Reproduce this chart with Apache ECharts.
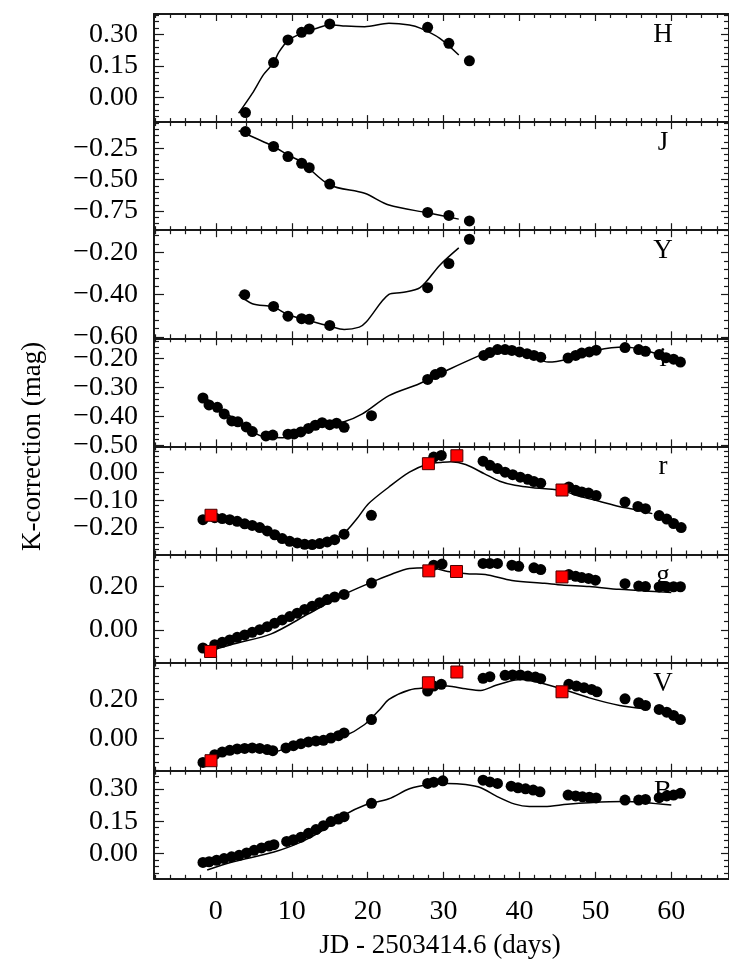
<!DOCTYPE html>
<html lang="en">
<head>
<meta charset="UTF-8" />
<title>K-correction</title>
<script src="https://cdn.jsdelivr.net/npm/echarts@6/dist/echarts.min.js"></script>
<style>
  html, body { margin: 0; padding: 0; background: #fff; }
  #chart { width: 729px; height: 969px; }
</style>
</head>
<body>
<div id="chart"></div>
<script>
// ---- data: [day, K-correction] ----
const H_DOTS = [[3.9,-0.071],[7.6,0.166],[9.5,0.273],[11.3,0.309],[12.3,0.325],[15.0,0.349],[27.9,0.333],[30.7,0.257],[33.4,0.174]];
const H_LINE = [[3.0,-0.074],[4.8,0.02],[6.3,0.11],[7.6,0.165],[8.3,0.215],[9.5,0.27],[11.2,0.303],[13.2,0.327],[15.0,0.345],[17.1,0.339],[19.6,0.336],[22.8,0.352],[25.5,0.344],[27.0,0.328],[29.5,0.281],[32.0,0.202]];

const J_DOTS = [[3.9,-0.118],[7.6,-0.237],[9.5,-0.317],[11.3,-0.370],[12.3,-0.405],[15.0,-0.535],[27.9,-0.761],[30.7,-0.785],[33.4,-0.828]];
const J_LINE = [[3.0,-0.112],[7.6,-0.237],[9.5,-0.305],[11.2,-0.357],[15.0,-0.543],[19.6,-0.609],[22.8,-0.702],[27.9,-0.764],[32.0,-0.814]];

const Y_DOTS = [[3.8,-0.40],[7.6,-0.456],[9.5,-0.502],[11.3,-0.514],[12.3,-0.517],[15.0,-0.546],[27.9,-0.367],[30.7,-0.252],[33.4,-0.137]];
const Y_LINE = [[3.0,-0.40],[4.8,-0.443],[7.6,-0.459],[9.5,-0.495],[12.2,-0.522],[15.0,-0.549],[16.9,-0.565],[18.9,-0.554],[19.8,-0.530],[22.8,-0.399],[24.5,-0.39],[26.9,-0.367],[29.5,-0.26],[32.0,-0.178]];

const I_DOTS = [[-1.7,-0.336],[-0.9,-0.36],[0.2,-0.368],[1.1,-0.391],[2.1,-0.415],[2.9,-0.418],[4.0,-0.436],[4.8,-0.452],[6.6,-0.467],[7.5,-0.464],[9.5,-0.461],[10.3,-0.46],[11.2,-0.453],[12.2,-0.441],[13.1,-0.43],[14.0,-0.421],[15.0,-0.428],[15.9,-0.423],[16.9,-0.437],[20.5,-0.397],[27.9,-0.272],[28.9,-0.255],[29.7,-0.247],[35.3,-0.189],[36.1,-0.179],[37.1,-0.169],[38.1,-0.169],[39.0,-0.172],[40.0,-0.177],[41.0,-0.183],[41.9,-0.189],[42.8,-0.195],[46.4,-0.198],[47.4,-0.189],[48.2,-0.181],[49.2,-0.177],[50.1,-0.171],[53.9,-0.162],[55.7,-0.169],[56.6,-0.175],[58.4,-0.186],[59.3,-0.197],[60.3,-0.202],[61.2,-0.212]];
const I_LINE = [[-1.5,-0.335],[0.5,-0.37],[3.0,-0.42],[6.2,-0.469],[8.8,-0.473],[12.7,-0.444],[15.6,-0.421],[16.9,-0.418],[19.3,-0.391],[22.8,-0.328],[26.8,-0.287],[30.9,-0.235],[35.3,-0.183],[37.4,-0.16],[39.4,-0.165],[41.8,-0.194],[43.8,-0.212],[46.3,-0.202],[50.2,-0.171],[53.9,-0.16],[56.6,-0.172],[60.0,-0.2]];

const R_DOTS = [[-1.7,-0.171],[-0.15,-0.164],[0.84,-0.167],[1.83,-0.171],[2.81,-0.177],[3.80,-0.186],[4.79,-0.192],[5.78,-0.200],[6.77,-0.212],[7.75,-0.226],[8.74,-0.240],[9.73,-0.250],[10.72,-0.256],[11.70,-0.261],[12.69,-0.262],[13.68,-0.258],[14.67,-0.252],[15.65,-0.244],[16.89,-0.224],[20.49,-0.155],[28.7,0.057],[29.7,0.063],[35.2,0.042],[36.1,0.027],[37.1,0.015],[38.1,0.002],[39.1,-0.007],[40.1,-0.016],[41.1,-0.024],[41.9,-0.032],[42.8,-0.038],[46.5,-0.052],[47.4,-0.064],[48.2,-0.070],[49.1,-0.074],[50.1,-0.083],[53.9,-0.107],[55.6,-0.123],[56.6,-0.131],[58.4,-0.156],[59.4,-0.169],[60.3,-0.185],[61.3,-0.200]];
const R_SQUARES = [[-0.64,-0.155],[28.0,0.033],[31.75,0.062],[45.6,-0.063]];
const R_LINE = [[-1.5,-0.168],[2.0,-0.174],[5.0,-0.192],[8.0,-0.232],[10.5,-0.256],[12.7,-0.263],[15.0,-0.249],[16.9,-0.220],[18.6,-0.167],[20.1,-0.113],[22.8,-0.052],[25.5,0.002],[28.0,0.033],[29.5,0.037],[31.0,0.040],[32.9,0.030],[35.4,-0.004],[37.4,-0.031],[39.4,-0.046],[41.8,-0.055],[44.3,-0.060],[45.8,-0.067],[48.2,-0.088],[50.4,-0.103],[53.1,-0.123],[55.0,-0.133],[57.5,-0.149]];

const G_DOTS = [[-1.7,-0.083],[-0.15,-0.068],[0.84,-0.057],[1.83,-0.046],[2.81,-0.034],[3.80,-0.023],[4.79,-0.011],[5.78,0.001],[6.77,0.015],[7.75,0.031],[8.74,0.046],[9.73,0.061],[10.72,0.077],[11.70,0.094],[12.69,0.109],[13.68,0.125],[14.67,0.139],[15.65,0.151],[16.89,0.163],[20.5,0.215],[28.7,0.297],[29.8,0.302],[35.2,0.305],[36.1,0.305],[37.1,0.305],[39.0,0.297],[39.9,0.292],[41.9,0.285],[42.8,0.277],[46.5,0.254],[47.4,0.246],[48.2,0.240],[49.1,0.236],[50.0,0.228],[53.9,0.212],[55.7,0.201],[56.6,0.199],[58.4,0.197],[59.4,0.197],[60.3,0.198],[61.2,0.198]];
const G_SQUARES = [[-0.7,-0.099],[28.05,0.271],[31.7,0.268],[45.6,0.243]];
const G_LINE = [[-1.4,-0.103],[2.3,-0.065],[7.3,-0.018],[12.2,0.074],[16.9,0.163],[20.6,0.220],[22.8,0.251],[25.5,0.282],[28.0,0.285],[31.0,0.266],[33.4,0.257],[35.5,0.254],[39.0,0.227],[43.3,0.214],[45.6,0.206],[49.2,0.199],[53.1,0.186],[58.3,0.175],[60.0,0.172]];

const V_DOTS = [[-1.7,-0.122],[-0.15,-0.082],[0.84,-0.069],[1.83,-0.060],[2.81,-0.053],[3.80,-0.050],[4.79,-0.048],[5.78,-0.050],[6.77,-0.056],[7.5,-0.062],[9.23,-0.048],[10.22,-0.036],[11.21,-0.026],[12.2,-0.017],[13.19,-0.012],[14.17,-0.009],[15.16,0.003],[16.15,0.015],[16.89,0.029],[20.5,0.097],[27.9,0.243],[28.7,0.268],[29.7,0.277],[35.2,0.308],[36.1,0.316],[38.1,0.323],[39.1,0.325],[40.1,0.325],[41.1,0.319],[42.1,0.314],[42.8,0.306],[46.5,0.277],[47.5,0.268],[48.5,0.26],[49.5,0.251],[50.2,0.239],[53.9,0.203],[55.7,0.183],[56.6,0.169],[58.4,0.149],[59.4,0.135],[60.3,0.118],[61.2,0.097]];
const V_SQUARES = [[-0.64,-0.113],[28.0,0.285],[31.75,0.340],[45.6,0.239]];
const V_LINE = [[-1.14,-0.111],[-0.15,-0.091],[2.81,-0.060],[7.5,-0.069],[9.73,-0.043],[13.68,-0.022],[16.89,0.012],[19.6,0.072],[21.6,0.149],[22.8,0.2],[25.5,0.248],[28.0,0.26],[30.5,0.268],[32.9,0.254],[34.9,0.246],[36.9,0.272],[39.4,0.299],[40.3,0.302],[42.3,0.289],[45.8,0.251],[49.2,0.208],[53.2,0.169],[56.6,0.152]];

const B_DOTS = [[-1.7,-0.041],[-0.89,-0.038],[0.10,-0.031],[1.08,-0.023],[2.07,-0.015],[3.06,-0.008],[4.05,0.003],[5.04,0.015],[6.02,0.026],[7.01,0.035],[7.65,0.041],[9.33,0.056],[10.22,0.064],[11.21,0.076],[12.2,0.094],[13.19,0.111],[14.17,0.129],[15.16,0.148],[16.15,0.160],[16.89,0.171],[20.5,0.233],[27.9,0.325],[28.7,0.331],[29.9,0.337],[35.2,0.340],[36.1,0.332],[37.1,0.325],[38.9,0.312],[39.8,0.305],[40.8,0.30],[41.8,0.294],[42.7,0.286],[46.4,0.271],[47.4,0.267],[48.3,0.263],[49.2,0.261],[50.1,0.258],[53.9,0.248],[55.7,0.248],[56.6,0.251],[58.4,0.259],[59.4,0.267],[60.3,0.271],[61.2,0.279]];
const B_LINE = [[-1.14,-0.076],[2.3,-0.038],[7.65,0.007],[11.2,0.053],[13.7,0.099],[16.9,0.178],[19.6,0.224],[22.8,0.254],[25.5,0.30],[28.0,0.32],[30.5,0.325],[32.9,0.32],[34.9,0.305],[36.9,0.267],[39.4,0.229],[41.3,0.218],[43.3,0.218],[46.3,0.229],[49.2,0.236],[53.7,0.241],[56.6,0.236],[60.0,0.225]];

// ---- axes: tick labels and ranges ----
const BANDS = ['H', 'J', 'Y', 'i', 'r', 'g', 'V', 'B'];
const Y_MAJOR = [[0, 0.15, 0.30], [-0.75, -0.50, -0.25], [-0.60, -0.40, -0.20], [-0.50, -0.40, -0.30, -0.20],
                 [-0.20, -0.10, 0.00], [0.00, 0.20], [0.00, 0.20], [0, 0.15, 0.30]];
const Y_MINOR_STEP = [0.03, 0.05, 0.04, 0.02, 0.02, 0.04, 0.04, 0.03];
const Y_RANGE = [[-0.116, 0.396], [-0.902, -0.043], [-0.607, -0.094], [-0.503, -0.13],
                 [-0.298, 0.096], [-0.150, 0.346], [-0.164, 0.388], [-0.117, 0.384]];
const X_MAJOR = [0, 10, 20, 30, 40, 50, 60];
const X_RANGE = [-8.15, 67.6];

const DOTS = [H_DOTS, J_DOTS, Y_DOTS, I_DOTS, R_DOTS, G_DOTS, V_DOTS, B_DOTS];
const SQUARES = [null, null, null, null, R_SQUARES, G_SQUARES, V_SQUARES, null];
const LINES = [H_LINE, J_LINE, Y_LINE, I_LINE, R_LINE, G_LINE, V_LINE, B_LINE];

const FONT = '"Liberation Serif", "DejaVu Serif", serif';
const LEFT = 154, TOP = 14, PANEL_H = 108.1, WIDTH = 576;
const INK = '#1a1a1a';

function fmt(v) {
  if (Math.abs(v) < 1e-9) return '0.00';
  return (v < 0 ? '\u2212' : '') + Math.abs(v).toFixed(2);
}
function steps(lo, hi, step, skip) {
  const out = [];
  for (let k = Math.ceil(lo / step - 1e-6); k * step <= hi + 1e-9; k++) {
    const v = +(k * step).toFixed(5);
    if (!skip.some(s => Math.abs(s - v) < 1e-6)) out.push(v);
  }
  return out;
}

const X_MINOR = steps(X_RANGE[0], X_RANGE[1], 2, X_MAJOR);

const grids = [], xAxes = [], yAxes = [], series = [], graphics = [];

function yAxis(i, pos, opts) {
  return Object.assign({
    gridIndex: i, type: 'value', position: pos, min: Y_RANGE[i][0], max: Y_RANGE[i][1],
    axisLine: { show: false, onZero: false },
    axisTick: { show: false },
    axisLabel: { show: false },
    splitLine: { show: false }
  }, opts);
}

BANDS.forEach((band, i) => {
  const top = TOP + i * PANEL_H;
  grids.push({ left: LEFT, top: top, width: WIDTH, height: PANEL_H });
  const last = i === BANDS.length - 1;
  const xi = xAxes.length, yi = yAxes.length;

  // x axes: bottom/top, major/minor
  ['bottom', 'top'].forEach(pos => {
    xAxes.push({
      gridIndex: i, type: 'value', position: pos, min: X_RANGE[0], max: X_RANGE[1],
      axisLine: { show: true, onZero: false, lineStyle: { color: INK, width: 2 } },
      axisTick: { show: true, inside: true, length: 7, customValues: X_MAJOR, lineStyle: { color: INK, width: 1.2 } },
      axisLabel: { show: last && pos === 'bottom', customValues: X_MAJOR, margin: 19,
                   fontFamily: FONT, fontSize: 28, color: '#000' },
      splitLine: { show: false }
    });
    xAxes.push({
      gridIndex: i, type: 'value', position: pos, min: X_RANGE[0], max: X_RANGE[1],
      axisLine: { show: false, onZero: false },
      axisTick: { show: true, inside: true, length: 4, customValues: X_MINOR, lineStyle: { color: INK, width: 1.2 } },
      axisLabel: { show: false },
      splitLine: { show: false }
    });
  });

  // y axes: frame + ticks on both sides
  const yMinor = steps(Y_RANGE[i][0], Y_RANGE[i][1], Y_MINOR_STEP[i], Y_MAJOR[i]);
  ['left', 'right'].forEach(pos => {
    yAxes.push(yAxis(i, pos, {
      axisLine: { show: true, onZero: false, lineStyle: { color: INK, width: 2 } },
      axisTick: { show: true, inside: true, length: pos === 'left' ? 10 : 8, customValues: Y_MAJOR[i], lineStyle: { color: INK, width: 1.2 } }
    }));
    yAxes.push(yAxis(i, pos, {
      axisTick: { show: true, inside: true, length: 5, customValues: yMinor, lineStyle: { color: INK, width: 1.2 } }
    }));
  });
  // one label per axis so close labels are never dropped
  Y_MAJOR[i].forEach(v => {
    yAxes.push(yAxis(i, 'left', {
      axisLabel: { show: true, customValues: [v], formatter: fmt, margin: 16,
                   fontFamily: FONT, fontSize: 28, color: '#000' }
    }));
  });

  series.push({
    type: 'line', xAxisIndex: xi, yAxisIndex: yi, data: LINES[i], smooth: 0.3,
    showSymbol: false, lineStyle: { color: '#000', width: 1.5 }, z: 2, silent: true
  });
  series.push({
    type: 'scatter', xAxisIndex: xi, yAxisIndex: yi, data: DOTS[i], symbol: 'circle',
    symbolSize: 11, itemStyle: { color: '#000', opacity: 1 }, z: 3, silent: true
  });
  if (SQUARES[i]) {
    series.push({
      type: 'scatter', xAxisIndex: xi, yAxisIndex: yi, data: SQUARES[i], symbol: 'rect',
      symbolSize: 12, itemStyle: { color: '#ff0000', borderColor: '#4a0000', borderWidth: 1, opacity: 1 }, z: 4, silent: true
    });
  }

  graphics.push({
    type: 'text', x: 663, y: top + 21, z: 1,
    style: { text: band, font: '27px ' + FONT, fill: '#000', align: 'center', verticalAlign: 'middle' }
  });
});

graphics.push({
  type: 'text', x: 33, y: TOP + 4 * PANEL_H, rotation: Math.PI / 2,
  style: { text: 'K-correction (mag)', font: '27px ' + FONT, fill: '#000', align: 'center', verticalAlign: 'middle' }
});
graphics.push({
  type: 'text', x: LEFT + WIDTH / 2 - 2, y: 946,
  style: { text: 'JD - 2503414.6 (days)', font: '27px ' + FONT, fill: '#000', align: 'center', verticalAlign: 'middle' }
});

const chart = echarts.init(document.getElementById('chart'), null, { renderer: 'canvas' });
chart.setOption({
  animation: false,
  backgroundColor: '#fff',
  grid: grids,
  xAxis: xAxes,
  yAxis: yAxes,
  series: series,
  graphic: graphics
});
</script>
</body>
</html>
